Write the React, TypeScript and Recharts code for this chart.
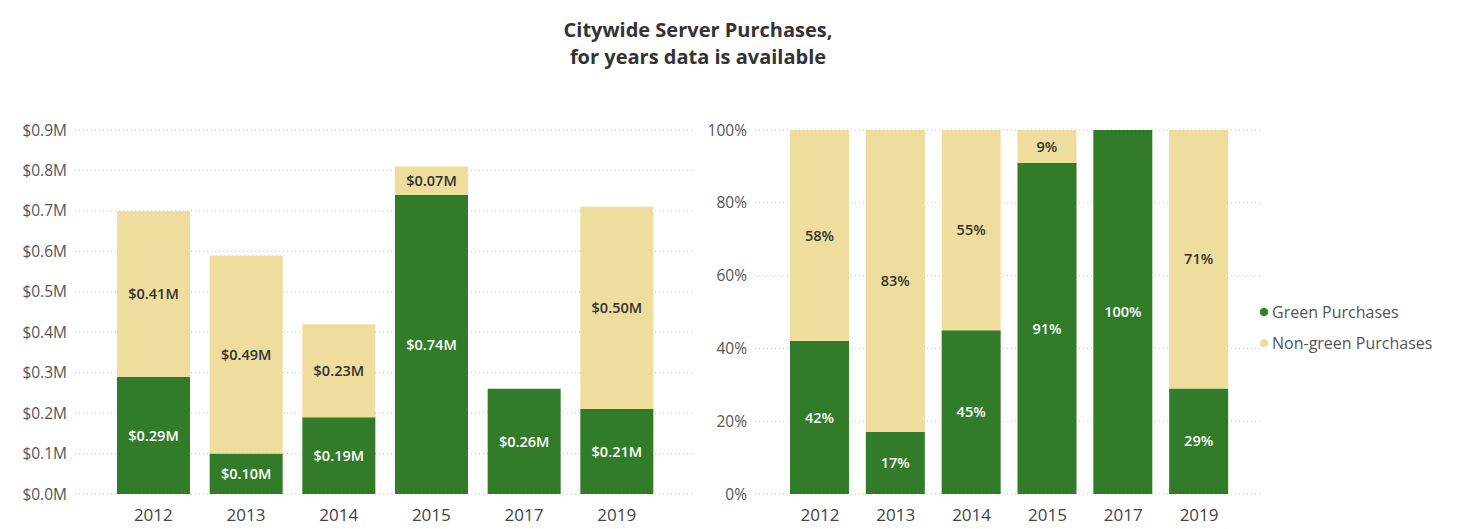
import { BarChart, Bar, XAxis, YAxis, CartesianGrid, LabelList, Legend } from 'recharts'

const years = ['2012', '2013', '2014', '2015', '2017', '2019']
// purchases in $M
const greenAmt = [0.29, 0.1, 0.19, 0.74, 0.26, 0.21]
const nonGreenAmt = [0.41, 0.49, 0.23, 0.07, 0, 0.5]
// share of the year's purchases, %
const greenPct = [42, 17, 45, 91, 100, 29]
const nonGreenPct = [58, 83, 55, 9, 0, 71]

const amtTicks = [0, 0.1, 0.2, 0.3, 0.4, 0.5, 0.6, 0.7, 0.8, 0.9]
const pctTicks = [0, 20, 40, 60, 80, 100]

const GREEN = '#317b29'
const BEIGE = '#eedd9c'
const FONT = '"Open Sans", "Noto Sans", sans-serif'

const amtData = years.map((year, i) => ({ year, green: greenAmt[i], nonGreen: nonGreenAmt[i] }))
const pctData = years.map((year, i) => ({ year, green: greenPct[i], nonGreen: nonGreenPct[i] }))

const money = (v: unknown) => (typeof v === 'number' && v > 0 ? `$${v.toFixed(2)}M` : '')
const pct = (v: unknown) => (typeof v === 'number' && v > 0 ? `${v}%` : '')

const xTick = { fontSize: 17, fill: '#444', fontFamily: FONT }
const yTick = { fontSize: 15.5, fill: '#555', fontFamily: FONT }
const lblStyle = { fontSize: 14.5, fontWeight: 600, fontFamily: FONT }

function LegendBox() {
  const items = [
    { name: 'Green Purchases', color: GREEN },
    { name: 'Non-green Purchases', color: BEIGE },
  ]
  return (
    <div style={{ fontFamily: FONT, fontSize: 16, color: '#555' }}>
      {items.map((it) => (
        <div key={it.name} style={{ display: 'flex', alignItems: 'center', height: 31 }}>
          <span
            style={{
              width: 8, height: 8, borderRadius: '50%', background: it.color,
              display: 'inline-block', marginRight: 4,
            }}
          />
          {it.name}
        </div>
      ))}
    </div>
  )
}

export default function App() {
  return (
    <div style={{ position: 'absolute', left: 0, top: 0, width: 1466, height: 529, background: '#fff', fontFamily: FONT }}>
      <div
        style={{
          position: 'absolute', left: 0, width: 1396, top: 16, textAlign: 'center',
          fontWeight: 700, fontSize: 20, lineHeight: '27px', color: '#333',
        }}
      >
        Citywide Server Purchases,
        <br />
        for years data is available
      </div>

      <div style={{ position: 'absolute', left: 0, top: 0 }}>
        <BarChart width={700} height={529} data={amtData} margin={{ top: 130, right: 8, bottom: 5, left: 0 }}>
          <CartesianGrid vertical={false} stroke="#c4c4c4" strokeDasharray="1 3" />
          <XAxis dataKey="year" axisLine={false} tickLine={false} tick={xTick} tickMargin={9} height={30} padding={{ left: 32, right: 29 }} />
          <YAxis
            domain={[0, 0.9]}
            ticks={amtTicks}
            tickFormatter={(v: number) => `$${v.toFixed(1)}M`}
            axisLine={false}
            tickLine={false}
            tick={yTick}
            width={75}
          />
          <Bar dataKey="green" stackId="a" fill={GREEN} barSize={73} isAnimationActive={false}>
            <LabelList dataKey="green" position="center" formatter={money} style={{ ...lblStyle, fill: '#fff' }} />
          </Bar>
          <Bar dataKey="nonGreen" stackId="a" fill={BEIGE} barSize={73} isAnimationActive={false}>
            <LabelList dataKey="nonGreen" position="center" formatter={money} style={{ ...lblStyle, fill: '#333' }} />
          </Bar>
        </BarChart>
      </div>

      <div style={{ position: 'absolute', left: 700, top: 0 }}>
        <BarChart width={766} height={529} data={pctData} margin={{ top: 130, right: 203, bottom: 5, left: 0 }}>
          <CartesianGrid vertical={false} stroke="#c4c4c4" strokeDasharray="1 3" />
          <XAxis dataKey="year" axisLine={false} tickLine={false} tick={xTick} tickMargin={9} height={30} padding={{ left: 27, right: 26 }} />
          <YAxis
            domain={[0, 100]}
            ticks={pctTicks}
            tickFormatter={(v: number) => `${v}%`}
            axisLine={false}
            tickLine={false}
            tick={yTick}
            width={55}
          />
          <Legend
            layout="vertical"
            align="center"
            verticalAlign="middle"
            content={() => <LegendBox />}
            wrapperStyle={{ left: 560, top: 296, width: 206 }}
          />
          <Bar dataKey="green" name="Green Purchases" stackId="p" fill={GREEN} barSize={59} isAnimationActive={false}>
            <LabelList dataKey="green" position="center" formatter={pct} style={{ ...lblStyle, fill: '#fff' }} />
          </Bar>
          <Bar dataKey="nonGreen" name="Non-green Purchases" stackId="p" fill={BEIGE} barSize={59} isAnimationActive={false}>
            <LabelList dataKey="nonGreen" position="center" formatter={pct} style={{ ...lblStyle, fill: '#333' }} />
          </Bar>
        </BarChart>
      </div>
    </div>
  )
}
